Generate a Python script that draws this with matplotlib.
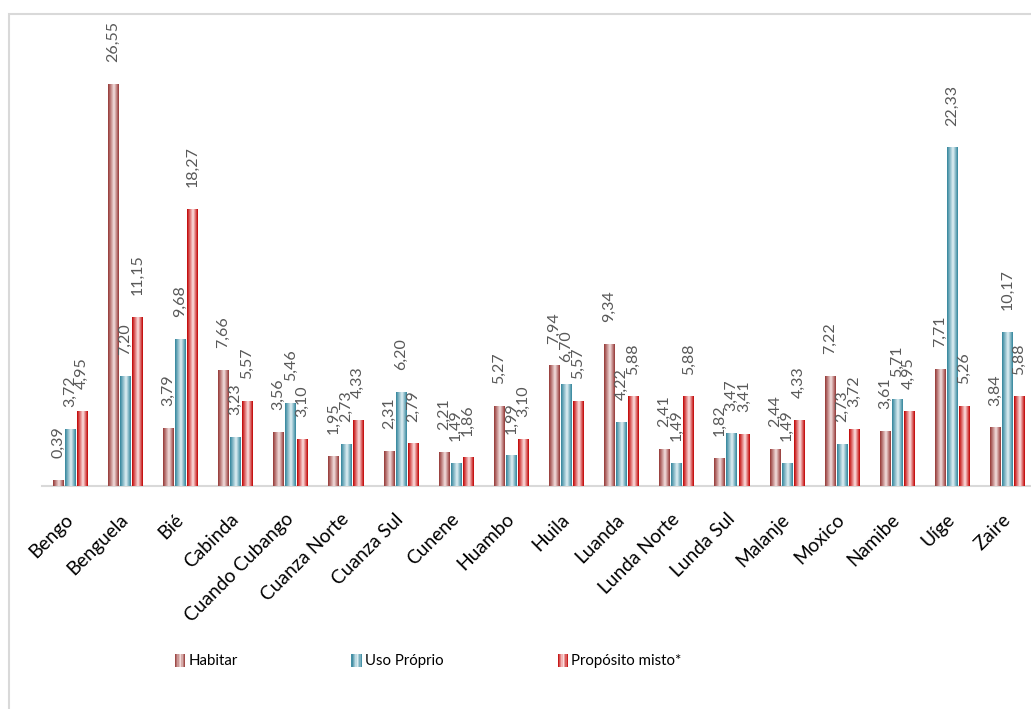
import numpy as np
import matplotlib
matplotlib.use("Agg")
import matplotlib.pyplot as plt
from matplotlib.colors import LinearSegmentedColormap
from matplotlib.patches import Rectangle
from matplotlib.legend_handler import HandlerBase

plt.rcParams['font.family'] = ['Lato', 'DejaVu Sans']

provinces = ["Bengo", "Benguela", "Bié", "Cabinda", "Cuando Cubango", "Cuanza Norte",
             "Cuanza Sul", "Cunene", "Huambo", "Huila", "Luanda", "Lunda Norte",
             "Lunda Sul", "Malanje", "Moxico", "Namibe", "Uíge", "Zaire"]
habitar = [0.39, 26.55, 3.79, 7.66, 3.56, 1.95, 2.31, 2.21, 5.27, 7.94, 9.34, 2.41,
           1.82, 2.44, 7.22, 3.61, 7.71, 3.84]
uso_proprio = [3.72, 7.20, 9.68, 3.23, 5.46, 2.73, 6.20, 1.49, 1.99, 6.70, 4.22, 1.49,
               3.47, 1.49, 2.73, 5.71, 22.33, 10.17]
proposito_misto = [4.95, 11.15, 18.27, 5.57, 3.10, 4.33, 2.79, 1.86, 3.10, 5.57, 5.88, 5.88,
                   3.41, 4.33, 3.72, 4.95, 5.26, 5.88]
series_names = ["Habitar", "Uso Próprio", "Propósito misto*"]

# dark edge / light centre for the cylinder-like shading
palettes = [("#943634", "#f4e1e0"),
            ("#31849b", "#e2f1f5"),
            ("#c00000", "#fde3e3")]


def shade_cmap(dark, light):
    return LinearSegmentedColormap.from_list(
        "shade", [(0.0, dark), (0.55, light), (1.0, dark)])


cmaps = [shade_cmap(d, l) for d, l in palettes]
grad = np.linspace(0, 1, 64)[None, :]

W, H = 1031, 709
fig = plt.figure(figsize=(W / 100, H / 100), dpi=100)

# outer chart frame
fig.patches.append(Rectangle((9 / W, -0.2), 1.2, 1.2 - 14 / H,
                             transform=fig.transFigure, fill=False,
                             edgecolor="#d9d9d9", linewidth=1.5))

n = len(provinces)
step = 55.14
left_px = 42.4
base_px = 486
unit_px = 15.14
ymax = 30
ax = fig.add_axes([left_px / W, (H - base_px) / H, n * step / W, ymax * unit_px / H])

x = np.arange(n)
offset = 0.218
width = 0.187
all_series = [habitar, uso_proprio, proposito_misto]
for i, vals in enumerate(all_series):
    xs = x + (i - 1) * offset
    bars = ax.bar(xs, vals, width=width, facecolor="none", edgecolor="none", zorder=3)
    for b, v in zip(bars, vals):
        x0 = b.get_x()
        ax.imshow(grad, cmap=cmaps[i], aspect="auto", interpolation="bilinear",
                  extent=[x0, x0 + b.get_width(), 0, v], zorder=3)
        ax.annotate(f"{v:.2f}".replace(".", ","), (x0 + b.get_width() / 2, v),
                    xytext=(0, 16), textcoords="offset points", rotation=90,
                    ha="center", va="bottom", fontsize=11.5, color="#595959",
                    annotation_clip=False)

ax.set_xlim(-0.5, n - 0.5)
ax.set_ylim(0, ymax)
for s in ["top", "right", "left"]:
    ax.spines[s].set_visible(False)
ax.spines["bottom"].set_color("#d9d9d9")
ax.spines["bottom"].set_linewidth(1.5)
ax.set_yticks([])
ax.set_xticks(x)
ax.set_xticklabels(provinces, rotation=45, ha="right", va="center",
                   rotation_mode="anchor", fontsize=13.8, color="black")
ax.tick_params(axis="x", length=0, pad=22)
ax.set_facecolor("none")


class GradientHandler(HandlerBase):
    def __init__(self, cmap):
        super().__init__()
        self.cmap = cmap

    def create_artists(self, legend, orig_handle, xdescent, ydescent, width, height,
                       fontsize, trans):
        k = 8
        arts = []
        for j in range(k):
            r = Rectangle((-xdescent + j * width / k, -ydescent), width / k, height,
                          facecolor=self.cmap((j + 0.5) / k), edgecolor="none",
                          transform=trans)
            arts.append(r)
        return arts


handles = [Rectangle((0, 0), 1, 1) for _ in series_names]
leg = fig.legend(handles, series_names, loc="center", bbox_to_anchor=(428 / W, 1 - 661 / H),
                 ncol=3, frameon=False, fontsize=10.8, handlelength=0.7, handleheight=0.95,
                 handletextpad=0.2, columnspacing=7.6,
                 handler_map={h: GradientHandler(c) for h, c in zip(handles, cmaps)})

fig.savefig("out.png", dpi=100)
